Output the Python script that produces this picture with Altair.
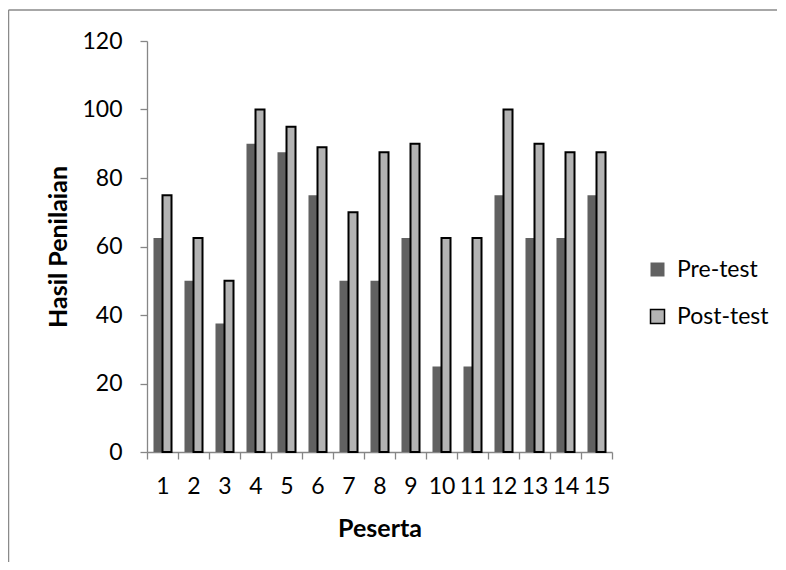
import altair as alt
import pandas as pd

peserta = [str(i) for i in range(1, 16)]
pre_test = [62.5, 50, 37.5, 90, 87.5, 75, 50, 50, 62.5, 25, 25, 75, 62.5, 62.5, 75]
post_test = [75, 62.5, 50, 100, 95, 89, 70, 87.5, 90, 62.5, 62.5, 100, 90, 87.5, 87.5]
series = ["Pre-test", "Post-test"]
y_ticks = [0, 20, 40, 60, 80, 100, 120]

rows = []
for s, vals in zip(series, [pre_test, post_test]):
    for p, v in zip(peserta, vals):
        rows.append({"Peserta": p, "Seri": s, "Nilai": v})
df = pd.DataFrame(rows)

legend = alt.Legend(
    title=None, orient="none", legendX=499, legendY=217,
    symbolType="square", symbolSize=196, symbolStrokeWidth=1.5,
    labelFont="Lato", labelFontSize=23, labelColor="black",
    labelOffset=8, rowPadding=23, padding=0,
)

bars = alt.Chart(df).mark_bar(strokeWidth=2).encode(
    x=alt.X("Peserta:N", sort=peserta, title="Peserta",
            scale=alt.Scale(paddingInner=0, paddingOuter=0),
            axis=alt.Axis(labelAngle=0, tickBand="extent", tickSize=7,
                          labelPadding=16, titlePadding=18)),
    xOffset=alt.XOffset("Seri:N", sort=series,
                        scale=alt.Scale(paddingInner=0, paddingOuter=0.72)),
    y=alt.Y("Nilai:Q", title="Hasil Penilaian",
            scale=alt.Scale(domain=[0, 120], nice=False),
            axis=alt.Axis(values=y_ticks, grid=False, tickSize=7,
                          labelPadding=18, titlePadding=10)),
    fill=alt.Fill("Seri:N", sort=series,
                  scale=alt.Scale(domain=series, range=["#616161", "#b3b3b3"]),
                  legend=legend),
    stroke=alt.Stroke("Seri:N", sort=series,
                      scale=alt.Scale(domain=series, range=["transparent", "#000000"]),
                      legend=legend),
)

frame_data = alt.Data(values=[{}])
frame_top = alt.Chart(frame_data).mark_rule(stroke="#8a8a8a", strokeWidth=1.5).encode(
    x=alt.value(-138.5), x2=alt.value(2000), y=alt.value(-31),
)
frame_left = alt.Chart(frame_data).mark_rule(stroke="#8a8a8a", strokeWidth=1.5).encode(
    x=alt.value(-138.5), y=alt.value(-31), y2=alt.value(2000),
)

chart = alt.layer(frame_top, frame_left, bars).properties(
    width=465, height=411,
    autosize=alt.AutoSizeParams(type="none"),
    padding={"left": 139, "top": 33, "right": 165, "bottom": 110},
).configure_view(stroke=None).configure_axis(
    domainColor="#868686", tickColor="#868686",
    domainWidth=1.3, tickWidth=1.3,
    labelFont="Lato", labelFontSize=23, labelColor="black",
    titleFont="Lato", titleFontSize=25, titleFontWeight="bold", titleColor="black",
)

chart.save("out.html", embed_options={"renderer": "svg", "actions": False})
